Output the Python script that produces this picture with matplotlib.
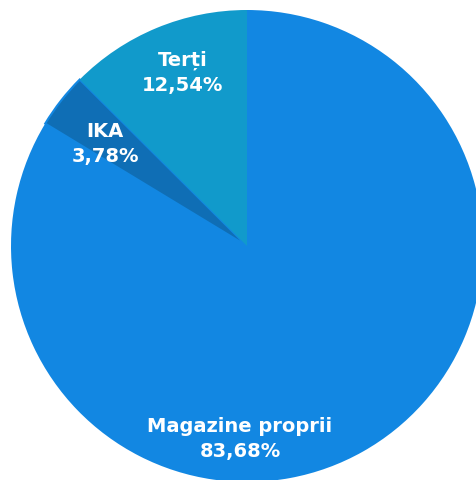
import matplotlib
matplotlib.use("Agg")
import matplotlib.pyplot as plt

# Date
categorii = ["Magazine proprii", "IKA", "Terți"]
procente = [83.68, 3.78, 12.54]
etichete = ["83,68%", "3,78%", "12,54%"]
culori = ["#1287e2", "#0f6eb5", "#119acb"]

W, H = 477, 481
fig = plt.figure(figsize=(W / 100, H / 100), dpi=100)
ax = fig.add_axes([0, 0, 1, 1])

wedges, _ = ax.pie(procente, colors=culori, startangle=90, counterclock=False,
                   center=(247, H - 247), radius=236,
                   wedgeprops=dict(linewidth=0))
# IKA are un contur subtire in culoarea feliei mari
wedges[1].set_edgecolor(culori[0])
wedges[1].set_linewidth(1.5)

ax.set_xlim(0, W)
ax.set_ylim(0, H)
ax.set_aspect("equal")
ax.axis("off")

font = dict(color="white", fontweight="bold", fontsize=14,
            family="DejaVu Sans",
            ha="center", va="center", linespacing=1.4)
pozitii = [(240, H - 439), (105, H - 144), (183, H - 73)]
for nume, et, (x, y) in zip(categorii, etichete, pozitii):
    ax.text(x, y, f"{nume}\n{et}", **font)

fig.savefig("out.png", dpi=100)
